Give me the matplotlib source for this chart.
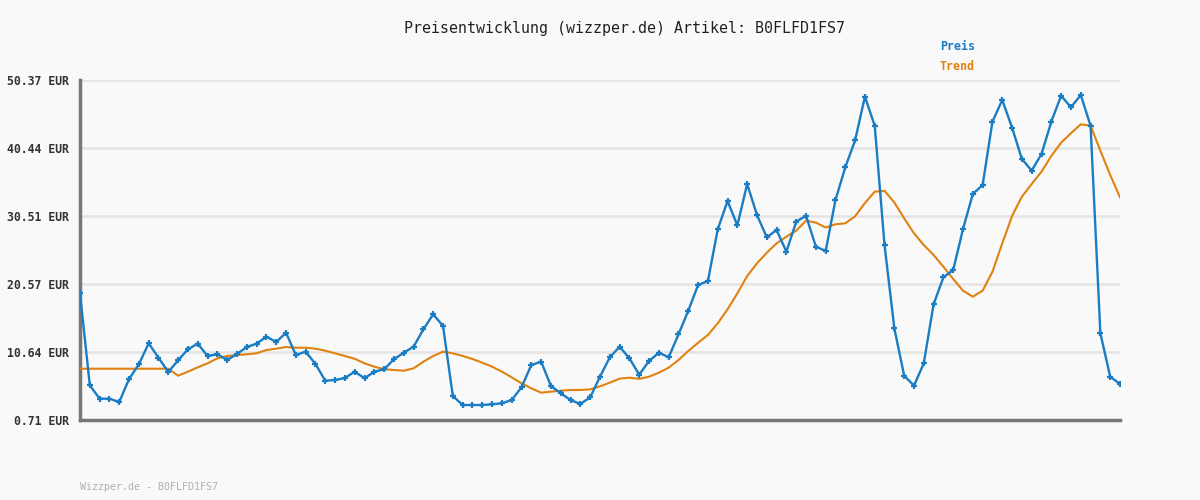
import numpy as np
import matplotlib.pyplot as plt

# Preisdaten
preis = [19.22, 5.78, 3.82, 3.82, 3.34, 6.70, 8.84, 11.91, 9.81, 7.72,
         9.43, 11.04, 11.86, 10.06, 10.31, 9.47, 10.35, 11.37, 11.86, 12.88,
         12.10, 13.46, 10.20, 10.69, 8.89, 6.45, 6.55, 6.84, 7.77, 6.80,
         7.77, 8.12, 9.58, 10.54, 11.42, 13.96, 16.15, 14.44, 4.21, 2.90,
         2.90, 2.90, 3.00, 3.15, 3.63, 5.49, 8.74, 9.23, 5.68, 4.61,
         3.63, 3.05, 4.02, 7.04, 9.86, 11.42, 9.71, 7.33, 9.33, 10.54,
         9.87, 13.22, 16.68, 20.43, 21.01, 28.56, 32.70, 29.14, 35.18, 30.65,
         27.39, 28.46, 25.30, 29.68, 30.55, 26.03, 25.40, 32.85, 37.62, 41.56,
         47.94, 43.70, 26.27, 14.10, 7.19, 5.72, 8.99, 17.61, 21.55, 22.62,
         28.61, 33.72, 35.04, 44.29, 47.45, 43.41, 38.83, 37.13, 39.56, 44.29,
         48.08, 46.38, 48.18, 43.70, 13.37, 7.04, 5.97]

trend = [8.20, 8.20, 8.20, 8.20, 8.20, 8.20, 8.20, 8.20, 8.20, 8.20,
         7.18, 7.77, 8.40, 8.99, 9.72, 10.06, 10.20, 10.31, 10.45, 10.93,
         11.13, 11.37, 11.27, 11.27, 11.13, 10.83, 10.45, 10.06, 9.65, 8.99,
         8.50, 8.12, 8.01, 7.91, 8.26, 9.23, 10.06, 10.69, 10.45, 10.06,
         9.62, 9.08, 8.50, 7.77, 6.94, 6.07, 5.34, 4.70, 4.85, 4.99,
         5.09, 5.09, 5.19, 5.63, 6.16, 6.75, 6.89, 6.72, 7.04, 7.62,
         8.35, 9.47, 10.79, 12.00, 13.13, 14.83, 16.88, 19.21, 21.74, 23.59,
         25.15, 26.51, 27.49, 28.37, 29.83, 29.54, 28.83, 29.29, 29.44, 30.46,
         32.40, 34.06, 34.18, 32.48, 30.17, 27.98, 26.27, 24.81, 23.10, 21.31,
         19.60, 18.72, 19.60, 22.37, 26.52, 30.51, 33.33, 35.18, 36.98, 39.27,
         41.22, 42.59, 43.90, 43.70, 40.05, 36.50, 33.24]

y_ticks = [0.71, 10.64, 20.57, 30.51, 40.44, 50.37]
y_labels = ["%.2f EUR" % v for v in y_ticks]

blau = '#1a7dc4'
orange = '#e0820f'
bg = '#f9f9f9'
mono = 'DejaVu Sans Mono'

x = np.arange(len(preis))

fig = plt.figure(figsize=(12, 5), dpi=100, facecolor=bg)
ax = fig.add_axes([80/1200, 80/500, 1040/1200, 340/500], facecolor=bg)

ax.plot(x, trend, color=orange, linewidth=1.5, zorder=3)
ax.plot(x, preis, color=blau, linewidth=1.7, marker='+', markersize=4,
        markeredgewidth=1.6, zorder=4)

ax.set_xlim(0, len(preis) - 1)
ax.set_ylim(y_ticks[0], y_ticks[-1])
ax.set_yticks(y_ticks)
ax.set_yticklabels(y_labels, family=mono, fontweight='bold',
                   fontsize=8.3, color='#333333')
ax.set_xticks([])
ax.tick_params(axis='y', length=0, pad=8)
ax.grid(axis='y', color='#e4e4e4', linewidth=1.8)

for s in ['top', 'right']:
    ax.spines[s].set_visible(False)
for s in ['left', 'bottom']:
    ax.spines[s].set_color('#777777')
    ax.spines[s].set_linewidth(2.5)

fig.text(624/1200, 1 - 28/500, "Preisentwicklung (wizzper.de) Artikel: B0FLFD1FS7",
         ha='center', va='center', family=mono, fontsize=10.8, color='#222222')
fig.text(940/1200, 1 - 47/500, "Preis", ha='left', va='center',
         family=mono, fontweight='bold', fontsize=8.4, color=blau)
fig.text(940/1200, 1 - 67/500, "Trend", ha='left', va='center',
         family=mono, fontweight='bold', fontsize=8.4, color=orange)
fig.text(80/1200, 1 - 487/500, "Wizzper.de - B0FLFD1FS7", ha='left', va='center',
         family=mono, fontsize=7.2, color='#b0b0b0')

fig.savefig('out.png', dpi=100, facecolor=bg)
